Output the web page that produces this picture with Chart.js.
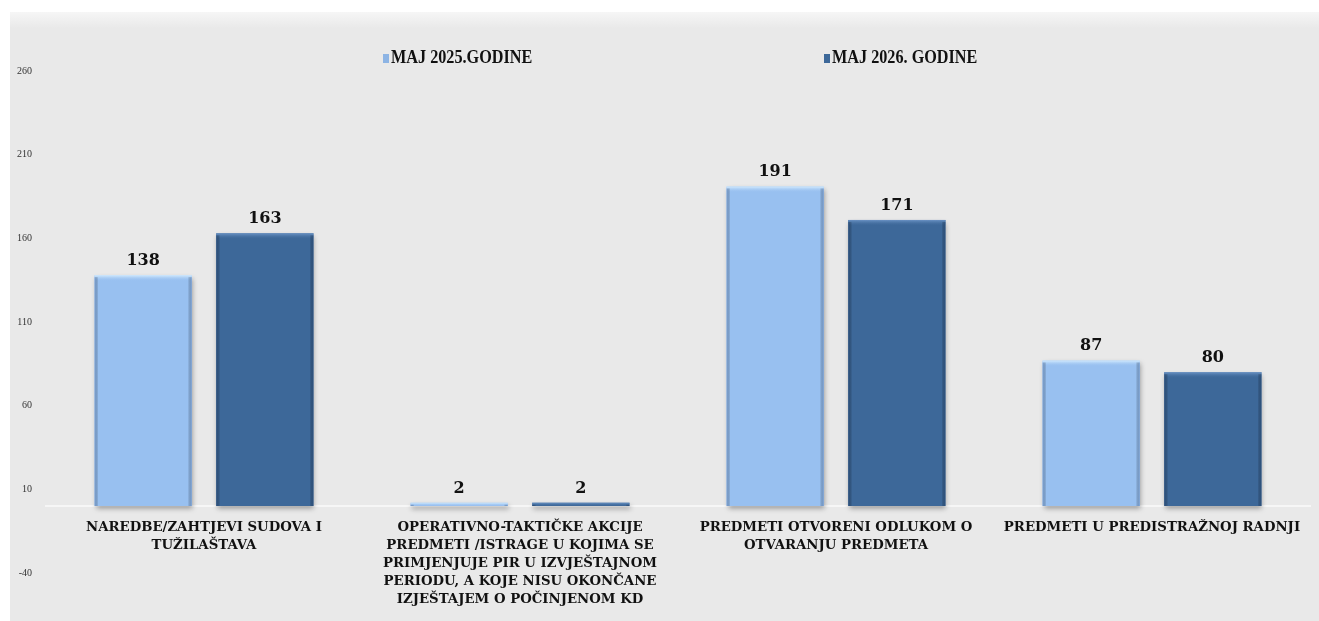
<!DOCTYPE html>
<html>
<head>
<meta charset="utf-8">
<script src="https://cdn.jsdelivr.net/npm/chart.js@4.4.1/dist/chart.umd.min.js"></script>
<style>
  html, body { margin: 0; padding: 0; background: #ffffff; }
  #wrap { width: 1319px; height: 621px; position: relative; }
</style>
</head>
<body>
<div id="wrap"><canvas id="c" width="1319" height="621"></canvas></div>
<script>
// ---- data ----
const categories = [
  ["NAREDBE/ZAHTJEVI SUDOVA I", "TUŽILAŠTAVA"],
  ["OPERATIVNO-TAKTIČKE AKCIJE", "PREDMETI /ISTRAGE U KOJIMA SE", "PRIMJENJUJE PIR U IZVJEŠTAJNOM", "PERIODU, A KOJE NISU OKONČANE", "IZJEŠTAJEM O POČINJENOM KD"],
  ["PREDMETI OTVORENI ODLUKOM O", "OTVARANJU PREDMETA"],
  ["PREDMETI U PREDISTRAŽNOJ RADNJI"]
];
const seriesNames = ["MAJ 2025.GODINE", "MAJ 2026. GODINE"];
const values2025 = [138, 2, 191, 87];
const values2026 = [163, 2, 171, 80];
const yTicks = [-40, 10, 60, 110, 160, 210, 260];

const LIGHT = '#98c0f0';
const DARK = '#3d6899';
const SERIF = '"DejaVu Serif", "Liberation Serif", serif';
const SERIF2 = '"Liberation Serif", "DejaVu Serif", serif';

const panelPlugin = {
  id: 'panel',
  beforeDraw(chart) {
    const ctx = chart.ctx;
    ctx.save();
    const g = ctx.createLinearGradient(0, 12, 0, 28);
    g.addColorStop(0, '#f6f6f6');
    g.addColorStop(1, '#e9e9e9');
    ctx.fillStyle = g;
    ctx.fillRect(10, 12, chart.width - 10, chart.height - 12);
    ctx.restore();
  }
};

const shadowPlugin = {
  id: 'barShadow',
  beforeDatasetsDraw(chart) {
    const ctx = chart.ctx;
    ctx.save();
    ctx.shadowColor = 'rgba(0,0,0,0.35)';
    ctx.shadowBlur = 5;
    ctx.shadowOffsetX = 1;
    ctx.shadowOffsetY = 3;
  },
  afterDatasetsDraw(chart) {
    const ctx = chart.ctx;
    ctx.restore();
    chart.data.datasets.forEach((ds, di) => {
      const meta = chart.getDatasetMeta(di);
      const light = di === 0;
      meta.data.forEach(bar => {
        const left = bar.x - bar.width / 2;
        const right = bar.x + bar.width / 2;
        const top = Math.min(bar.y, bar.base);
        const bottom = Math.max(bar.y, bar.base);
        const h = bottom - top;
        ctx.save();
        const bh = Math.min(6, h);
        const tg = ctx.createLinearGradient(0, top, 0, top + bh);
        tg.addColorStop(0, light ? 'rgba(215,238,255,0.95)' : 'rgba(110,150,200,0.95)');
        tg.addColorStop(1, light ? 'rgba(152,192,240,0)' : 'rgba(61,104,153,0)');
        ctx.fillStyle = tg;
        ctx.fillRect(left, top, right - left, bh);
        const sw = Math.min(4, (right - left) / 2);
        const lg = ctx.createLinearGradient(left, 0, left + sw, 0);
        lg.addColorStop(0, light ? 'rgba(110,150,205,0.6)' : 'rgba(40,75,120,0.6)');
        lg.addColorStop(1, 'rgba(0,0,0,0)');
        ctx.fillStyle = lg;
        ctx.fillRect(left, top + 2, sw, h - 2);
        const rg = ctx.createLinearGradient(right - sw, 0, right, 0);
        rg.addColorStop(0, 'rgba(0,0,0,0)');
        rg.addColorStop(1, light ? 'rgba(110,150,205,0.6)' : 'rgba(40,75,120,0.6)');
        ctx.fillStyle = rg;
        ctx.fillRect(right - sw, top + 2, sw, h - 2);
        ctx.restore();
      });
    });
  }
};

const valueLabelPlugin = {
  id: 'valueLabels',
  afterDatasetsDraw(chart) {
    const ctx = chart.ctx;
    ctx.save();
    ctx.font = 'bold 16px ' + SERIF;
    ctx.fillStyle = '#111111';
    ctx.textAlign = 'center';
    ctx.textBaseline = 'alphabetic';
    chart.data.datasets.forEach((ds, di) => {
      const meta = chart.getDatasetMeta(di);
      meta.data.forEach((bar, i) => {
        ctx.fillText(String(ds.data[i]), bar.x, bar.y - 10);
      });
    });
    ctx.restore();
  }
};

const legendPlugin = {
  id: 'customLegend',
  afterDraw(chart) {
    const ctx = chart.ctx;
    const xs = [383, 824];
    const y = 58;
    chart.data.datasets.forEach((ds, i) => {
      ctx.save();
      ctx.fillStyle = i === 0 ? '#8db4e4' : DARK;
      ctx.fillRect(xs[i], y - 4, 6, 9);
      ctx.translate(xs[i] + 8, y);
      ctx.scale(0.9, 1);
      ctx.font = 'bold 18px ' + SERIF2;
      ctx.textBaseline = 'middle';
      ctx.textAlign = 'left';
      ctx.fillStyle = '#111111';
      ctx.fillText(ds.label, 0, 0);
      ctx.restore();
    });
  }
};

new Chart(document.getElementById('c'), {
  type: 'bar',
  data: {
    labels: categories,
    datasets: [
      { label: seriesNames[0], data: values2025, backgroundColor: LIGHT, borderWidth: 0 },
      { label: seriesNames[1], data: values2026, backgroundColor: DARK, borderWidth: 0 }
    ]
  },
  options: {
    responsive: false,
    animation: false,
    devicePixelRatio: 1,
    categoryPercentage: 0.77,
    barPercentage: 0.8,
    layout: { padding: { left: 10, right: 9, top: 71, bottom: 48 } },
    plugins: {
      legend: { display: false },
      tooltip: { enabled: false }
    },
    scales: {
      x: {
        position: { y: 0 },
        grid: { display: false, drawTicks: false },
        border: { display: true, color: '#f6f6f6', width: 2 },
        ticks: {
          autoSkip: false,
          maxRotation: 0,
          padding: 12,
          color: '#111111',
          font: { family: SERIF, size: 13.3, weight: 'bold', lineHeight: 1.353 }
        }
      },
      y: {
        min: yTicks[0],
        max: yTicks[yTicks.length - 1],
        afterBuildTicks(scale) { scale.ticks = yTicks.map(v => ({ value: v })); },
        afterFit(scale) { scale.width = 36; },
        grid: { display: false, drawTicks: false },
        border: { display: false },
        ticks: {
          padding: 14,
          color: '#333333',
          font: { family: SERIF2, size: 10 }
        }
      }
    }
  },
  plugins: [panelPlugin, shadowPlugin, valueLabelPlugin, legendPlugin]
});
</script>
</body>
</html>
